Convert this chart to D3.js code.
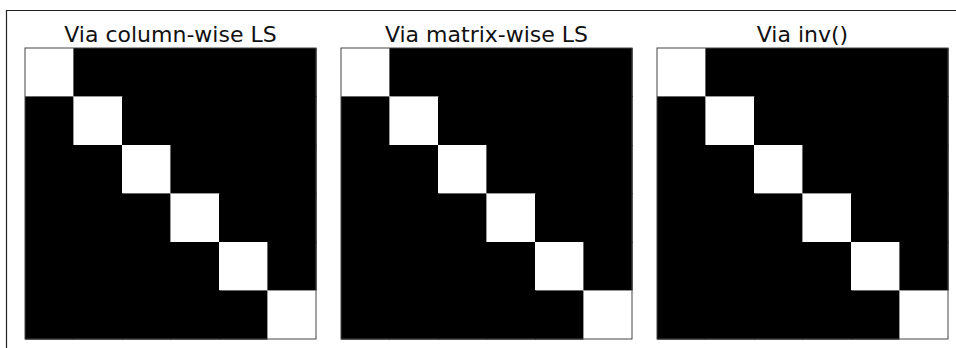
<!DOCTYPE html>
<html>
<head>
<meta charset="utf-8">
<script src="https://cdn.jsdelivr.net/npm/d3@7"></script>
<style>
  body { margin: 0; background: #fff; }
  svg { display: block; }
</style>
</head>
<body>
<script>
// panel titles
const titles = ["Via column-wise LS", "Via matrix-wise LS", "Via inv()"]
// row / column indices of the 6x6 matrices
const idx = [0, 1, 2, 3, 4, 5]
// the three results (all identity matrices)
const matColumn = [
  [1, 0, 0, 0, 0, 0],
  [0, 1, 0, 0, 0, 0],
  [0, 0, 1, 0, 0, 0],
  [0, 0, 0, 1, 0, 0],
  [0, 0, 0, 0, 1, 0],
  [0, 0, 0, 0, 0, 1]
]
const matMatrix = [
  [1, 0, 0, 0, 0, 0],
  [0, 1, 0, 0, 0, 0],
  [0, 0, 1, 0, 0, 0],
  [0, 0, 0, 1, 0, 0],
  [0, 0, 0, 0, 1, 0],
  [0, 0, 0, 0, 0, 1]
]
const matInv = [
  [1, 0, 0, 0, 0, 0],
  [0, 1, 0, 0, 0, 0],
  [0, 0, 1, 0, 0, 0],
  [0, 0, 0, 1, 0, 0],
  [0, 0, 0, 0, 1, 0],
  [0, 0, 0, 0, 0, 1]
]
const mats = [matColumn, matMatrix, matInv]

const W = 956, H = 348
const panelLeft = [25, 341, 657]
const panelTop = 48
const size = 291

const svg = d3.select('body').append('svg')
    .attr('width', W)
    .attr('height', H)

// figure frame (only top & left visible)
svg.append('path')
    .attr('d', `M6.5,${H} L6.5,10.5 L${W},10.5`)
    .attr('fill', 'none')
    .attr('stroke', '#222')
    .attr('stroke-width', 1.2)

// gray colour map, 0 -> black, 1 -> white
const color = d3.scaleLinear().domain([0, 1]).range(['#000', '#fff'])

mats.forEach((m, k) => {
  const g = svg.append('g')
      .attr('transform', `translate(${panelLeft[k]},${panelTop})`)

  const x = d3.scaleBand().domain(idx).range([0, size])
  const y = d3.scaleBand().domain(idx).range([0, size])

  const cells = []
  m.forEach((row, i) => row.forEach((v, j) => cells.push({i, j, v})))

  g.selectAll('rect.cell').data(cells)
    .enter()
    .append('rect')
      .attr('class', 'cell')
      .attr('x', d => x(d.j))
      .attr('y', d => y(d.i))
      .attr('width', x.bandwidth())
      .attr('height', y.bandwidth())
      .attr('fill', d => color(d.v))
      .attr('stroke', d => color(d.v))
      .attr('stroke-width', 0.6)
      .attr('shape-rendering', 'crispEdges')

  // axes spine
  g.append('rect')
      .attr('x', 0)
      .attr('y', 0)
      .attr('width', size)
      .attr('height', size)
      .attr('fill', 'none')
      .attr('stroke', '#444')
      .attr('stroke-width', 1)

  svg.append('text')
      .attr('x', panelLeft[k] + size / 2)
      .attr('y', 41.5)
      .attr('text-anchor', 'middle')
      .attr('font-family', 'DejaVu Sans')
      .attr('font-size', '22px')
      .attr('fill', '#111')
      .text(titles[k])
})
</script>
</body>
</html>
